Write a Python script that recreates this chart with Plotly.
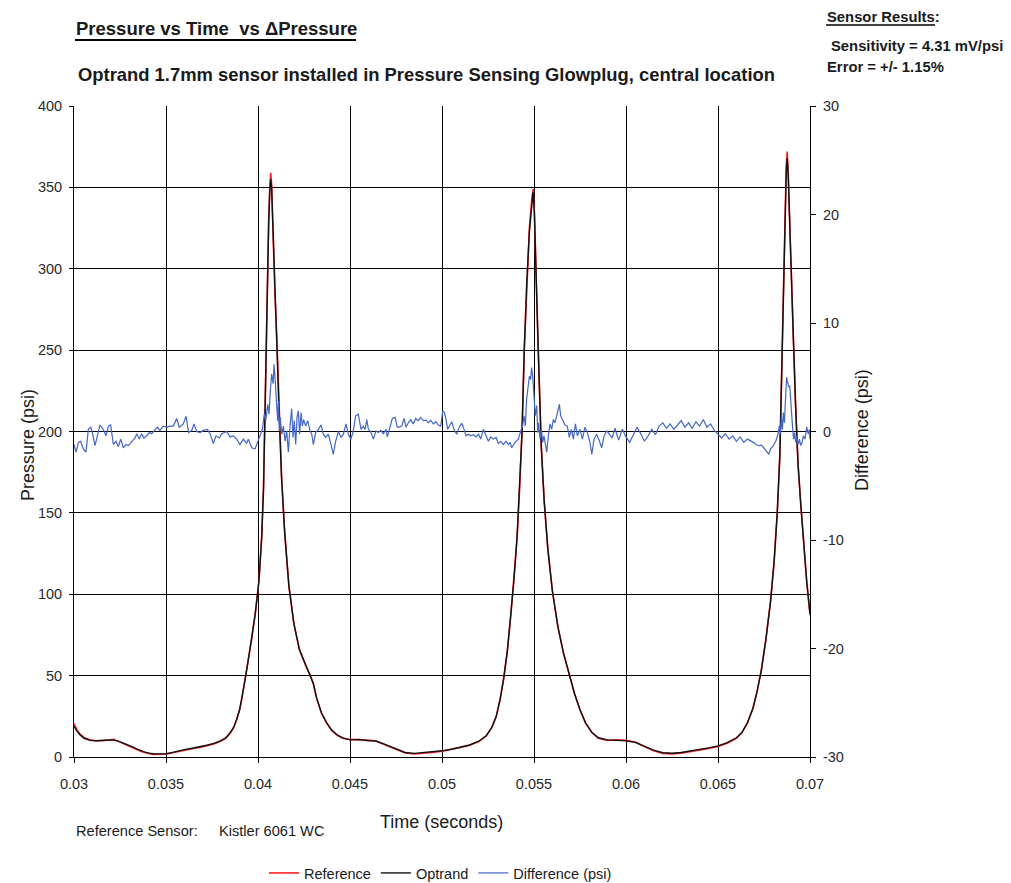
import plotly.graph_objects as go

# ---------------- data ----------------
time_s = [
    0.03000, 0.03015, 0.03033, 0.03055, 0.03087, 0.03120, 0.03159, 0.03190, 0.03214, 0.03241,
    0.03265, 0.03286, 0.03315, 0.03341, 0.03365, 0.03386, 0.03410, 0.03431, 0.03470, 0.03504,
    0.03530, 0.03558, 0.03600, 0.03649, 0.03690, 0.03721, 0.03760, 0.03793, 0.03825, 0.03848,
    0.03868, 0.03884, 0.03900, 0.03911, 0.03929, 0.03945, 0.03965, 0.03985, 0.04005, 0.04020,
    0.04030, 0.04038, 0.04044, 0.04050, 0.04058, 0.04064, 0.04069, 0.04074, 0.04082, 0.04092,
    0.04103, 0.04115, 0.04128, 0.04145, 0.04168, 0.04195, 0.04225, 0.04260, 0.04285, 0.04301,
    0.04319, 0.04345, 0.04373, 0.04400, 0.04428, 0.04460, 0.04500, 0.04550, 0.04600, 0.04640,
    0.04680, 0.04720, 0.04760, 0.04800, 0.04850, 0.04900, 0.04950, 0.05000, 0.05050, 0.05100,
    0.05150, 0.05200, 0.05240, 0.05270, 0.05295, 0.05315, 0.05335, 0.05355, 0.05375, 0.05392,
    0.05408, 0.05422, 0.05435, 0.05447, 0.05460, 0.05475, 0.05488, 0.05495, 0.05502, 0.05510,
    0.05520, 0.05530, 0.05540, 0.05555, 0.05575, 0.05600, 0.05630, 0.05660, 0.05690, 0.05720,
    0.05750, 0.05780, 0.05815, 0.05850, 0.05900, 0.05950, 0.06000, 0.06050, 0.06100, 0.06150,
    0.06200, 0.06250, 0.06300, 0.06350, 0.06400, 0.06450, 0.06500, 0.06550, 0.06600, 0.06630,
    0.06660, 0.06690, 0.06712, 0.06735, 0.06760, 0.06785, 0.06805, 0.06822, 0.06836, 0.06846,
    0.06855, 0.06864, 0.06871, 0.06876, 0.06882, 0.06892, 0.06900, 0.06910, 0.06922, 0.06935,
    0.06950, 0.06965, 0.06982, 0.07000,
]

reference_psi = [
    20.5, 17.0, 14.0, 12.0, 10.5, 10.0, 10.0, 10.2, 10.8, 9.6,
    8.5, 7.4, 6.0, 4.6, 3.4, 2.6, 2.0, 1.6, 1.5, 1.8,
    2.5, 3.2, 4.2, 5.2, 6.0, 6.8, 8.0, 9.5, 11.5, 14.5,
    18.0, 23.0, 29.0, 35.0, 47.0, 58.0, 72.0, 88.0, 108.0, 135.0,
    165.0, 210.0, 255.0, 295.0, 330.0, 350.0, 359.0, 352.0, 320.0, 285.0,
    256.0, 210.0, 172.0, 138.0, 105.0, 82.0, 66.0, 56.0, 50.0, 45.0,
    36.0, 27.0, 21.0, 16.5, 13.5, 11.5, 10.8, 10.5, 10.4, 9.8,
    8.0, 6.0, 4.0, 2.4, 1.8, 2.2, 2.8, 3.5, 4.5, 5.8,
    7.2, 9.5, 13.0, 18.0, 25.0, 35.0, 48.0, 65.0, 88.0, 110.0,
    135.0, 165.0, 200.0, 250.0, 290.0, 325.0, 343.0, 349.0, 335.0, 295.0,
    262.0, 225.0, 190.0, 158.0, 128.0, 102.0, 80.0, 64.0, 51.0, 39.0,
    29.0, 21.0, 15.0, 11.5, 10.2, 10.6, 10.2, 9.2, 6.5, 3.8,
    2.2, 1.9, 2.4, 3.3, 4.3, 5.3, 6.5, 8.5, 11.5, 15.0,
    21.0, 30.0, 40.0, 53.0, 72.0, 95.0, 120.0, 150.0, 185.0, 240.0,
    290.0, 340.0, 363.0, 372.0, 358.0, 320.0, 285.0, 256.0, 215.0, 180.0,
    155.0, 130.0, 108.0, 87.0,
]

optrand_psi = [
    19.0, 16.0, 13.5, 11.5, 10.2, 10.0, 10.3, 10.5, 10.5, 9.8,
    8.8, 7.8, 6.4, 5.0, 3.8, 3.0, 2.4, 2.0, 1.9, 2.0,
    2.7, 3.5, 4.5, 5.5, 6.3, 7.2, 8.4, 9.8, 11.8, 14.8,
    18.3, 23.0, 29.0, 35.0, 47.0, 58.0, 72.0, 88.0, 108.0, 135.0,
    165.0, 210.0, 255.0, 295.0, 328.0, 347.0, 355.0, 350.0, 320.0, 285.0,
    256.0, 210.0, 172.0, 138.0, 105.0, 82.0, 66.0, 56.0, 50.0, 45.0,
    36.0, 27.0, 21.0, 16.5, 13.8, 11.8, 10.5, 10.8, 10.0, 9.8,
    8.2, 6.4, 4.3, 2.8, 2.2, 2.6, 3.2, 3.8, 4.8, 6.0,
    7.4, 9.7, 13.0, 18.0, 25.0, 35.0, 48.0, 65.0, 88.0, 110.0,
    135.0, 165.0, 200.0, 250.0, 290.0, 323.0, 341.0, 347.0, 335.0, 295.0,
    262.0, 225.0, 190.0, 158.0, 128.0, 102.0, 80.0, 64.0, 51.0, 39.0,
    29.0, 21.0, 15.0, 11.8, 10.5, 10.3, 9.9, 9.0, 6.7, 4.2,
    2.6, 2.3, 2.8, 3.6, 4.6, 5.6, 6.8, 8.8, 11.8, 15.0,
    21.0, 30.0, 40.0, 53.0, 72.0, 95.0, 120.0, 150.0, 185.0, 240.0,
    290.0, 338.0, 360.0, 368.0, 356.0, 320.0, 285.0, 256.0, 215.0, 180.0,
    155.0, 130.0, 108.0, 88.0,
]

diff_time_s = [
    0.03000, 0.03011, 0.03024, 0.03036, 0.03051, 0.03065, 0.03078, 0.03091, 0.03101, 0.03114,
    0.03127, 0.03141, 0.03159, 0.03174, 0.03187, 0.03199, 0.03214, 0.03228, 0.03241, 0.03254,
    0.03268, 0.03283, 0.03295, 0.03313, 0.03332, 0.03341, 0.03355, 0.03368, 0.03380, 0.03395,
    0.03409, 0.03422, 0.03440, 0.03453, 0.03467, 0.03485, 0.03507, 0.03522, 0.03540, 0.03558,
    0.03572, 0.03594, 0.03609, 0.03623, 0.03640, 0.03652, 0.03667, 0.03685, 0.03703, 0.03725,
    0.03739, 0.03757, 0.03772, 0.03790,
    0.03803, 0.03830, 0.03848, 0.03866, 0.03884, 0.03902, 0.03920, 0.03938, 0.03947, 0.03966,
    0.03984, 0.03998, 0.04011, 0.04024, 0.04034, 0.04042, 0.04053, 0.04060, 0.04067, 0.04074,
    0.04082, 0.04087, 0.04092, 0.04098, 0.04103, 0.04107, 0.04111, 0.04116, 0.04121, 0.04129,
    0.04138, 0.04147, 0.04156, 0.04165, 0.04174, 0.04183, 0.04190, 0.04197, 0.04205, 0.04212,
    0.04219, 0.04226, 0.04234, 0.04241, 0.04248, 0.04259, 0.04270, 0.04283, 0.04292, 0.04301,
    0.04313, 0.04328, 0.04342, 0.04355, 0.04368, 0.04382, 0.04397, 0.04409, 0.04422, 0.04437,
    0.04451, 0.04464, 0.04478, 0.04491, 0.04505, 0.04518, 0.04531, 0.04545, 0.04560, 0.04572,
    0.04582,
    0.04591, 0.04600, 0.04612, 0.04627, 0.04641, 0.04654, 0.04667, 0.04681, 0.04696, 0.04703,
    0.04717, 0.04730, 0.04745, 0.04757, 0.04768, 0.04781, 0.04794, 0.04804, 0.04817, 0.04830,
    0.04844, 0.04857, 0.04871, 0.04884, 0.04899, 0.04913, 0.04926, 0.04938, 0.04953, 0.04967,
    0.04980, 0.04993, 0.05004, 0.05013, 0.05022, 0.05031, 0.05040, 0.05053, 0.05065, 0.05080,
    0.05094, 0.05107, 0.05116, 0.05131, 0.05143, 0.05156, 0.05170, 0.05185, 0.05198, 0.05210,
    0.05225, 0.05239, 0.05252, 0.05265, 0.05279, 0.05294, 0.05306, 0.05319, 0.05333, 0.05348,
    0.05361, 0.05370,
    0.05379, 0.05397, 0.05415, 0.05428, 0.05438, 0.05446, 0.05453, 0.05460, 0.05467, 0.05475,
    0.05482, 0.05487, 0.05493, 0.05496, 0.05502, 0.05507, 0.05515, 0.05520, 0.05525, 0.05533,
    0.05540, 0.05547, 0.05554, 0.05562, 0.05569, 0.05578, 0.05587, 0.05596, 0.05605, 0.05614,
    0.05627, 0.05638, 0.05645, 0.05656, 0.05669, 0.05681, 0.05692, 0.05703, 0.05714, 0.05725,
    0.05736, 0.05750, 0.05763, 0.05777, 0.05790, 0.05804, 0.05814, 0.05826, 0.05841, 0.05855,
    0.05868, 0.05881, 0.05895, 0.05910,
    0.05925, 0.05940, 0.05960, 0.05980, 0.06000, 0.06020, 0.06040, 0.06060, 0.06080, 0.06100,
    0.06120, 0.06140, 0.06160, 0.06180, 0.06200, 0.06220, 0.06240, 0.06260, 0.06280, 0.06300,
    0.06320, 0.06340, 0.06360, 0.06380, 0.06400, 0.06420, 0.06440, 0.06460, 0.06480, 0.06500,
    0.06520, 0.06540, 0.06560, 0.06580, 0.06600, 0.06620, 0.06640, 0.06660,
    0.06692, 0.06710, 0.06725, 0.06737, 0.06750, 0.06765, 0.06776, 0.06786, 0.06801, 0.06815,
    0.06826, 0.06833, 0.06839, 0.06844, 0.06850, 0.06855, 0.06861, 0.06866, 0.06870, 0.06873,
    0.06879, 0.06884, 0.06890, 0.06895, 0.06901, 0.06906, 0.06911, 0.06917, 0.06922, 0.06928,
    0.06935, 0.06942, 0.06949, 0.06957, 0.06964, 0.06973, 0.06982, 0.06991, 0.06997, 0.07000,
]

diff_psi = [
    -1.2, -1.9, -1.0, -0.9, -1.6, -1.9, 0.2, 0.4, -0.2, -1.3,
    -0.4, 0.6, 0.2, -0.4, 0.5, 0.6, -1.2, -0.9, -1.4, -0.7,
    -1.5, -1.2, -1.3, -1.0, -0.6, -0.2, -0.7, -0.2, -0.6, -0.4,
    -0.1, -0.2, 0.1, 0.4, 0.1, 0.5, 0.4, 0.5, 0.5, 1.2,
    0.4, 0.7, 1.4, -0.1, 0.1, 0.7, 0.0, -0.1, 0.1, 0.2,
    -0.2, -1.1, -0.4, -0.6,
    -0.2, 0.0, -0.5, -0.4, -0.7, -1.2, -0.7, -1.1, -0.7, -1.5,
    -1.6, -1.0, -0.4, 0.2, 1.6, 1.0, 2.5, 1.6, 3.75, 5.3,
    4.4, 6.2, 5.1, 3.75, 2.5, 1.0, 2.8, 0.06, 1.3, -0.25,
    0.5, -0.9, 0.06, -1.9, 0.5, 2.1, -0.55, 1.0, -1.2, 1.3,
    1.9, -0.25, 1.75, 0.5, 1.1, 0.5, 1.0, 0.06, -0.25, -1.2,
    -0.1, 0.2, 0.6, -0.25, -0.55, -0.25, -1.2, -2.1, -0.9, 0.0,
    -0.55, -0.25, 0.7, -0.25, -0.7, 0.06, 1.45, 1.6, 0.2, 0.5,
    0.2,
    1.1, 0.2, 0.0, -0.7, 0.06, -0.1, 0.1, -0.2, 0.2, -0.5,
    0.4, 1.2, 1.3, 0.4, 0.4, 0.5, 1.2, 0.4, 0.8, 1.1,
    0.7, 1.2, 1.0, 1.3, 1.0, 1.05, 0.8, 1.05, 0.7, 0.9,
    0.6, 0.5, 1.9, 1.75, 1.1, 0.2, 0.5, 0.9, 0.2, -0.25,
    0.4, 0.75, 0.4, -0.4, -0.25, -0.4, -0.3, -0.5, -0.25, -0.7,
    0.2, -0.4, -0.9, -0.5, -0.7, -0.55, -1.1, -0.9, -1.2, -0.9,
    -1.2, -1.0,
    -1.5, -1.0, -0.7, 0.06, 0.5, 1.45, 0.5, 3.0, 4.2, 5.1,
    4.8, 5.9, 5.1, 4.2, 3.0, 1.45, 2.4, -0.1, 0.8, -0.7,
    0.2, -1.0, -0.4, -1.3, -1.9, -0.4, 0.7, 0.2, 1.1, 0.8,
    1.9, 2.5, 1.45, 1.0, 0.6, 0.5, -0.55, 0.2, -0.7, 0.7,
    -0.4, 0.2, -0.7, 0.4, -0.1, -1.0, -2.1, -0.7, -0.25, -0.85,
    -1.5, -0.4, 0.06, -0.25,
    -0.6, 0.3, -0.8, 0.2, -0.5, -1.0, -0.3, 0.4, -0.2, -0.9,
    -0.4, 0.2, -0.3, 0.5, 0.8, 0.3, 0.7, 0.2, 0.6, 1.0,
    0.4, 0.8, 0.3, 0.9, 0.5, 1.1, 0.4, 0.7, 0.1, -0.3,
    -0.6, -0.2, -0.7, -0.4, -0.9, -0.5, -1.0, -0.7,
    -1.0, -1.25, -1.3, -1.25, -1.5, -1.8, -2.1, -1.6, -1.3, -0.85,
    -0.25, 0.5, -0.25, 1.3, 0.2, 1.75, 0.8, 2.7, 3.9, 5.0,
    4.5, 4.1, 4.2, 2.4, 1.45, 0.2, -0.7, -0.1, -1.0, -0.4,
    -1.2, -0.7, -1.3, -1.0, -0.4, -0.7, 0.4, -0.25, 0.2, -0.7,
]

x_ticks = [0.03, 0.035, 0.04, 0.045, 0.05, 0.055, 0.06, 0.065, 0.07]
x_tick_labels = ["0.03", "0.035", "0.04", "0.045", "0.05", "0.055", "0.06", "0.065", "0.07"]
pressure_ticks = [0, 50, 100, 150, 200, 250, 300, 350, 400]
diff_ticks = [-30, -20, -10, 0, 10, 20, 30]
diff_tick_labels = ["-30", "-20", "-10", "0", "10", "20", "30"]

# ---------------- layout helpers ----------------
# The page body has an 8px margin, so the figure is drawn 8px right/down.
OFF = 8
W, H = 1003, 900
PLOT_L, PLOT_R, PLOT_T, PLOT_B = 74, 810, 106, 757   # plot area in window pixels
L = PLOT_L - OFF
T = PLOT_T - OFF
R = W - (PLOT_R - OFF)
B = H - (PLOT_B - OFF)
PW, PH = PLOT_R - PLOT_L, PLOT_B - PLOT_T


def px_x(px):
    return (px - PLOT_L) / PW


def px_y(py):
    return (PLOT_B - py) / PH


FONT = "Liberation Sans, Arial, sans-serif"
TXT = "#1a1a1a"
TICK_FONT = dict(family=FONT, size=14.5, color="#2a2a2a")

fig = go.Figure()
fig.add_trace(go.Scatter(x=time_s, y=reference_psi, name="Reference", mode="lines",
                         line=dict(color="#ff2020", width=1.6)))
fig.add_trace(go.Scatter(x=time_s, y=optrand_psi, name="Optrand", mode="lines",
                         line=dict(color="#111111", width=1.4)))
fig.add_trace(go.Scatter(x=diff_time_s, y=diff_psi, name="Difference (psi)", mode="lines",
                         yaxis="y2", line=dict(color="#4466c4", width=1.2)))

axis_common = dict(showline=True, linecolor="black", linewidth=1, zeroline=False,
                   ticks="outside", tickcolor="black", tickfont=TICK_FONT)

fig.update_layout(
    width=W, height=H, autosize=False,
    margin=dict(l=L, r=R, t=T, b=B, pad=0),
    paper_bgcolor="white", plot_bgcolor="white",
    font=dict(family=FONT, size=14.5, color=TXT),
    xaxis=dict(range=[0.03, 0.07], tickvals=x_ticks, ticktext=x_tick_labels,
               showgrid=True, gridcolor="black", gridwidth=1, ticklen=5,
               ticklabelstandoff=9, **axis_common),
    yaxis=dict(range=[0, 400], tickvals=pressure_ticks, showgrid=True, gridcolor="black",
               gridwidth=1, ticklen=4, ticklabelstandoff=4, **axis_common),
    yaxis2=dict(range=[-30, 30], tickvals=diff_ticks, ticktext=diff_tick_labels,
                overlaying="y", side="right", showgrid=False, ticklen=5,
                ticklabelstandoff=4, **axis_common),
    showlegend=True,
    legend=dict(orientation="h", x=px_x(264), y=px_y(873), xanchor="left", yanchor="middle",
                font=dict(family=FONT, size=14.5, color=TXT), bgcolor="rgba(0,0,0,0)",
                itemwidth=30, borderwidth=0),
)

annotations = [
    dict(text="<b>Pressure vs Time  vs ΔPressure</b>", x=px_x(74), y=px_y(28),
         xanchor="left", yanchor="middle", font=dict(family=FONT, size=18.5, color=TXT)),
    dict(text="<b>Optrand 1.7mm sensor installed in Pressure Sensing Glowplug, central location</b>",
         x=px_x(76), y=px_y(75), xanchor="left", yanchor="middle",
         font=dict(family=FONT, size=18.4, color=TXT)),
    dict(text="<b>Sensor Results:</b>", x=px_x(825), y=px_y(17), xanchor="left", yanchor="middle",
         font=dict(family=FONT, size=14.8, color=TXT)),
    dict(text="<b>Sensitivity = 4.31 mV/psi</b>", x=px_x(829), y=px_y(46), xanchor="left",
         yanchor="middle", font=dict(family=FONT, size=14.8, color=TXT)),
    dict(text="<b>Error = +/- 1.15%</b>", x=px_x(825), y=px_y(67), xanchor="left",
         yanchor="middle", font=dict(family=FONT, size=14.8, color=TXT)),
    dict(text="Pressure (psi)", x=px_x(28), y=px_y(445), textangle=-90, xanchor="center",
         yanchor="middle", font=dict(family=FONT, size=18, color=TXT)),
    dict(text="Difference (psi)", x=px_x(862), y=px_y(430), textangle=-90, xanchor="center",
         yanchor="middle", font=dict(family=FONT, size=18, color=TXT)),
    dict(text="Time (seconds)", x=px_x(441), y=px_y(822), xanchor="center", yanchor="middle",
         font=dict(family=FONT, size=18, color=TXT)),
    dict(text="Reference Sensor:", x=px_x(74), y=px_y(831), xanchor="left", yanchor="middle",
         font=dict(family=FONT, size=14.6, color=TXT)),
    dict(text="Kistler 6061 WC", x=px_x(217), y=px_y(831), xanchor="left", yanchor="middle",
         font=dict(family=FONT, size=14.6, color=TXT)),
]
for a in annotations:
    a.update(xref="paper", yref="paper", showarrow=False)
fig.update_layout(annotations=annotations)

# underlines of the two headings
fig.add_shape(type="line", xref="paper", yref="paper", x0=px_x(75), x1=px_x(356),
              y0=px_y(40), y1=px_y(40), line=dict(color="black", width=2))
fig.add_shape(type="line", xref="paper", yref="paper", x0=px_x(826), x1=px_x(935),
              y0=px_y(25), y1=px_y(25), line=dict(color="black", width=1.5))

fig.write_html("out.html")
